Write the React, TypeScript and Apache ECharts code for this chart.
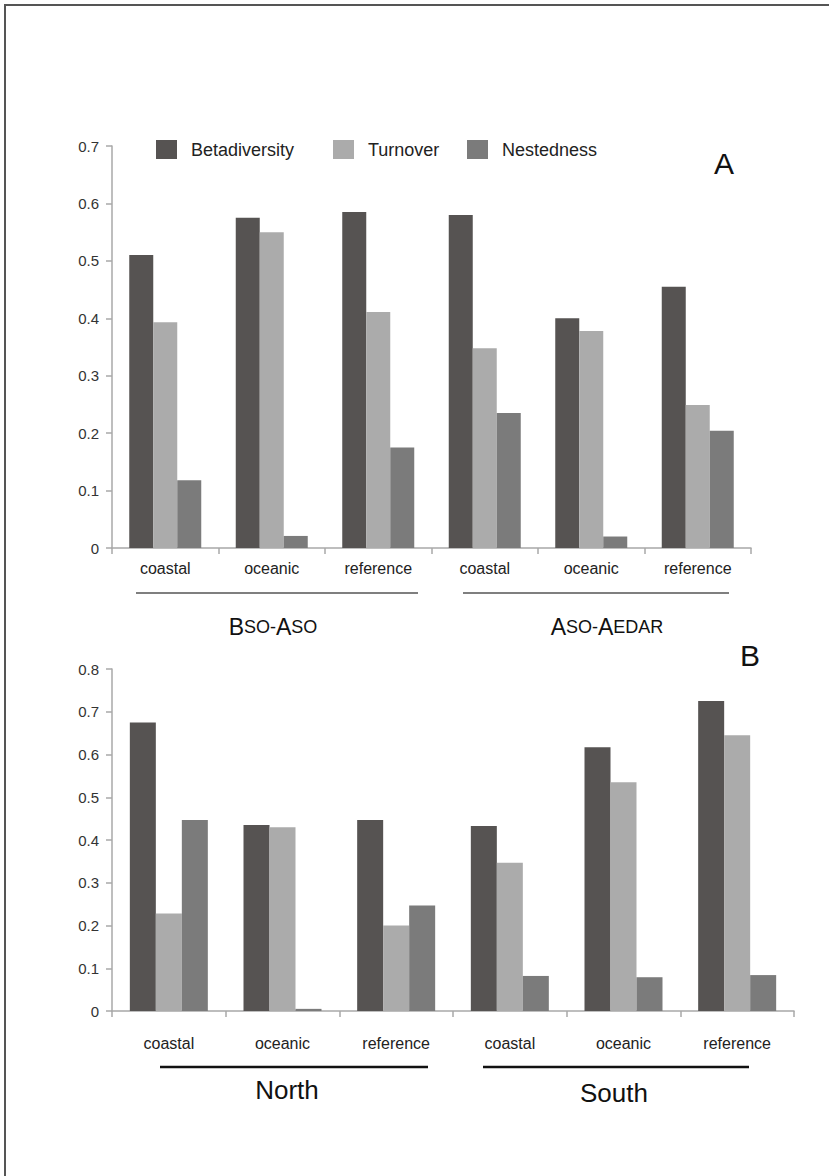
import React, { useEffect, useRef } from "react";
import * as echarts from "echarts";

const categories = ["coastal", "oceanic", "reference", "coastal", "oceanic", "reference"];
const seriesNames = ["Betadiversity", "Turnover", "Nestedness"];
const colors = ["#565352", "#ababab", "#7b7b7b"];

// Panel A (BSO-ASO / ASO-AEDAR)
const betaA = [0.51, 0.575, 0.585, 0.58, 0.4, 0.455];
const turnA = [0.393, 0.55, 0.411, 0.348, 0.378, 0.249];
const nestA = [0.118, 0.021, 0.175, 0.235, 0.02, 0.204];

// Panel B (North / South)
const betaB = [0.675, 0.435, 0.447, 0.433, 0.617, 0.725];
const turnB = [0.228, 0.43, 0.2, 0.347, 0.535, 0.645];
const nestB = [0.447, 0.005, 0.247, 0.082, 0.079, 0.084];

const yMaxA = 0.7;
const yMaxB = 0.8;
const yStep = 0.1;

const FONT = "'Liberation Sans', Arial, sans-serif";

export default function App() {
  const ref = useRef<HTMLDivElement>(null);
  useEffect(() => {
    if (!ref.current) return;
    const chart = echarts.init(ref.current, null, { renderer: "svg" });
    const axisColor = "#a8a8a8";
    const mkX = (gridIndex: number, margin: number) => ({
      type: "category",
      gridIndex,
      data: categories,
      axisLine: { lineStyle: { color: axisColor, width: 1.5 } },
      axisTick: { show: true, interval: 0, length: 6, lineStyle: { color: axisColor, width: 1.5 } },
      axisLabel: { interval: 0, margin, fontSize: 16, color: "#222", fontFamily: FONT },
      splitLine: { show: false },
    });
    const mkY = (gridIndex: number, max: number) => ({
      type: "value",
      gridIndex,
      min: 0,
      max,
      interval: yStep,
      axisLine: { show: true, lineStyle: { color: axisColor, width: 1.5 } },
      axisTick: { show: true, length: 6, lineStyle: { color: axisColor, width: 1.5 } },
      axisLabel: { margin: 13, fontSize: 15, color: "#333", fontFamily: FONT },
      splitLine: { show: false },
    });
    const dataA = [betaA, turnA, nestA];
    const dataB = [betaB, turnB, nestB];
    const series: any[] = [];
    seriesNames.forEach((name, i) => {
      series.push({
        name,
        type: "bar",
        xAxisIndex: 0,
        yAxisIndex: 0,
        data: dataA[i],
        barWidth: 24,
        barGap: "0%",
        itemStyle: { color: colors[i] },
      });
    });
    seriesNames.forEach((name, i) => {
      series.push({
        name,
        type: "bar",
        xAxisIndex: 1,
        yAxisIndex: 1,
        data: dataB[i],
        barWidth: 26,
        barGap: "0%",
        itemStyle: { color: colors[i] },
      });
    });
    const legendLefts = [156, 333, 467];
    const legend = seriesNames.map((name, i) => ({
      data: [name],
      left: legendLefts[i],
      top: 140,
      padding: 0,
      itemWidth: 21,
      itemHeight: 19,
      icon: "rect",
      selectedMode: false,
      textStyle: { fontSize: 18, color: "#222", fontFamily: FONT, padding: [0, 0, 0, 9] },
    }));
    const smallCaps = {
      big: { fontSize: 23, fontFamily: FONT, fill: "#111" },
      small: { fontSize: 18, fontFamily: FONT, fill: "#111" },
    };
    chart.setOption({
      animation: false,
      backgroundColor: "#ffffff",
      legend,
      grid: [
        { left: 112, top: 146, width: 639, height: 402 },
        { left: 112, top: 669, width: 682, height: 342 },
      ],
      xAxis: [mkX(0, 12), mkX(1, 24)],
      yAxis: [mkY(0, yMaxA), mkY(1, yMaxB)],
      series,
      graphic: [
        {
          type: "rect",
          shape: { x: 5, y: 5, width: 900, height: 1250 },
          style: { fill: "none", stroke: "#555", lineWidth: 2 },
          silent: true,
        },
        { type: "line", shape: { x1: 136, y1: 593, x2: 418, y2: 593 }, style: { stroke: "#555", lineWidth: 1.5 } },
        { type: "line", shape: { x1: 463, y1: 593, x2: 729, y2: 593 }, style: { stroke: "#555", lineWidth: 1.5 } },
        { type: "line", shape: { x1: 160, y1: 1067, x2: 428, y2: 1067 }, style: { stroke: "#111", lineWidth: 2.5 } },
        { type: "line", shape: { x1: 483, y1: 1067, x2: 749, y2: 1067 }, style: { stroke: "#111", lineWidth: 2.5 } },
        {
          type: "text",
          x: 273,
          y: 627,
          style: {
            text: "{big|B}{small|SO-}{big|A}{small|SO}",
            rich: smallCaps,
            align: "center",
            verticalAlign: "middle",
          },
        },
        {
          type: "text",
          x: 607,
          y: 627,
          style: {
            text: "{big|A}{small|SO-}{big|A}{small|EDAR}",
            rich: smallCaps,
            align: "center",
            verticalAlign: "middle",
          },
        },
        {
          type: "text",
          x: 287,
          y: 1090,
          style: { text: "North", fontSize: 26, fontFamily: FONT, fill: "#111", align: "center", verticalAlign: "middle" },
        },
        {
          type: "text",
          x: 614,
          y: 1093,
          style: { text: "South", fontSize: 26, fontFamily: FONT, fill: "#111", align: "center", verticalAlign: "middle" },
        },
        {
          type: "text",
          x: 724,
          y: 163,
          style: { text: "A", fontSize: 30, fontFamily: FONT, fill: "#111", align: "center", verticalAlign: "middle" },
        },
        {
          type: "text",
          x: 750,
          y: 655,
          style: { text: "B", fontSize: 30, fontFamily: FONT, fill: "#111", align: "center", verticalAlign: "middle" },
        },
      ],
    });
    return () => chart.dispose();
  }, []);
  return (
    <div
      ref={ref}
      style={{ position: "absolute", left: 0, top: 0, width: 829, height: 1176 }}
    />
  );
}
